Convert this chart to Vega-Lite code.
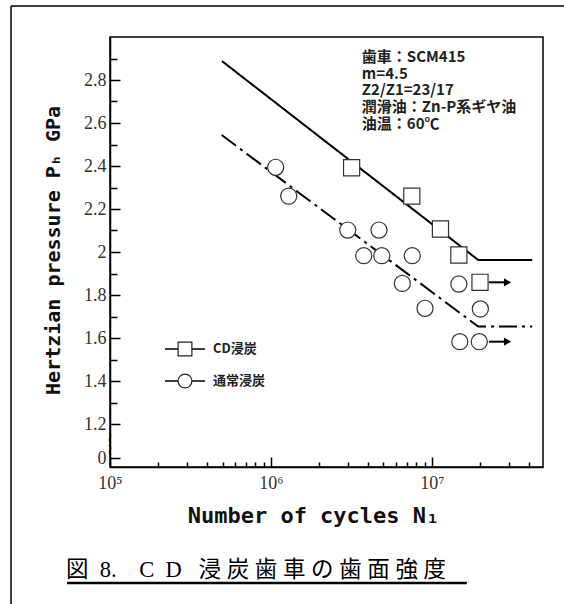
{
  "$schema": "https://vega.github.io/schema/vega-lite/v6.json",
  "autosize": "none",
  "width": 433,
  "height": 430,
  "padding": {"left": 110, "top": 37, "right": 21, "bottom": 137},
  "background": "white",
  "datasets": {
    "points": [
      {"series": "CD浸炭", "x": 3170000, "y": 2.392},
      {"series": "CD浸炭", "x": 7500000, "y": 2.26},
      {"series": "CD浸炭", "x": 11300000, "y": 2.107},
      {"series": "CD浸炭", "x": 14700000, "y": 1.986},
      {"series": "CD浸炭", "x": 19900000, "y": 1.859},
      {"series": "通常浸炭", "x": 1070000, "y": 2.394},
      {"series": "通常浸炭", "x": 1290000, "y": 2.26},
      {"series": "通常浸炭", "x": 3000000, "y": 2.102},
      {"series": "通常浸炭", "x": 4690000, "y": 2.102},
      {"series": "通常浸炭", "x": 3770000, "y": 1.983},
      {"series": "通常浸炭", "x": 4880000, "y": 1.983},
      {"series": "通常浸炭", "x": 7550000, "y": 1.983},
      {"series": "通常浸炭", "x": 6550000, "y": 1.854},
      {"series": "通常浸炭", "x": 14700000, "y": 1.851},
      {"series": "通常浸炭", "x": 9060000, "y": 1.738},
      {"series": "通常浸炭", "x": 20000000, "y": 1.735},
      {"series": "通常浸炭", "x": 14900000, "y": 1.583},
      {"series": "通常浸炭", "x": 19700000, "y": 1.583}
    ],
    "lines": [
      {"series": "CD浸炭", "x": 496000, "y": 2.888},
      {"series": "CD浸炭", "x": 19400000, "y": 1.963},
      {"series": "CD浸炭", "x": 42000000, "y": 1.963},
      {"series": "通常浸炭", "x": 494000, "y": 2.544},
      {"series": "通常浸炭", "x": 19400000, "y": 1.653},
      {"series": "通常浸炭", "x": 42000000, "y": 1.653}
    ],
    "arrows": [
      {"series": "CD浸炭", "x": 22600000, "x2": 29500000, "y": 1.859},
      {"series": "通常浸炭", "x": 22600000, "x2": 29500000, "y": 1.583}
    ],
    "legend": [
      {"series": "CD浸炭", "x": 292400, "xa": 219600, "xb": 389000, "xl": 436200, "y": 1.549},
      {"series": "通常浸炭", "x": 292400, "xa": 219600, "xb": 389000, "xl": 436200, "y": 1.40}
    ],
    "deco": [
      {"part": "frame", "x": 24270, "y": 3.144, "x2": 200000000, "y2": 3.144},
      {"part": "frame", "x": 24270, "y": 3.144, "x2": 24270, "y2": 0.3},
      {"part": "underline", "x": 54075, "y": 0.46, "x2": 16480000, "y2": 0.46}
    ],
    "notes": [
      {"x": 3670000, "y": 2.94, "text": "歯車：SCM415\nm=4.5\nZ2/Z1=23/17\n潤滑油：Zn-P系ギヤ油\n油温：60℃"}
    ],
    "caption": [
      {"x": 53300, "y": 0.521, "text": "図\u20028.\u2003C\u2002D\u2002\u2005浸\u2005炭\u2005歯\u2005車\u2005の\u2005歯\u2005面\u2005強\u2005度"}
    ],
    "breaks": [
      {"x": 100000, "y": 1.135, "text": "≀"},
      {"x": 100000, "y": 1.079, "text": "≀"}
    ]
  },
  "encoding": {
    "x": {
      "field": "x",
      "type": "quantitative",
      "scale": {"type": "log", "domain": [100000, 49000000]},
      "axis": {
        "values": [100000, 200000, 300000, 400000, 500000, 600000, 700000, 800000, 900000, 1000000, 2000000, 3000000, 4000000, 5000000, 6000000, 7000000, 8000000, 9000000, 10000000, 20000000, 30000000, 40000000],
        "labelExpr": "datum.value == 100000 ? '10⁵' : datum.value == 1000000 ? '10⁶' : datum.value == 10000000 ? '10⁷' : ''",
        "tickSize": {"condition": {"test": "datum.value == 100000 || datum.value == 1000000 || datum.value == 10000000", "value": -10}, "value": -5},
        "tickColor": "black",
        "tickWidth": 1.5,
        "domainColor": "black",
        "domainWidth": 1.5,
        "grid": false,
        "labelOverlap": false,
        "labelFlush": false,
        "labelFont": "Liberation Serif",
        "labelFontSize": 18,
        "labelColor": "#333",
        "labelPadding": 17,
        "title": "Number of cycles N₁",
        "titleFont": "DejaVu Sans Mono",
        "titleFontSize": 22,
        "titleFontWeight": "bold",
        "titleColor": "#111",
        "titleX": 203,
        "titleY": 48,
        "titleAlign": "center",
        "titleBaseline": "middle"
      }
    },
    "y": {
      "field": "y",
      "type": "quantitative",
      "scale": {"domain": [1.0, 3.0], "zero": false, "nice": false},
      "axis": {
        "values": [1.04, 1.2, 1.3, 1.4, 1.5, 1.6, 1.7, 1.8, 1.9, 2.0, 2.1, 2.2, 2.3, 2.4, 2.5, 2.6, 2.7, 2.8, 2.9],
        "labelExpr": "datum.value < 1.1 ? '0' : (round(datum.value * 10) % 2 == 0 ? format(datum.value, '.1~f') : '')",
        "tickSize": {"condition": {"test": "round(datum.value * 10) % 2 == 0", "value": -10}, "value": -7},
        "tickColor": "black",
        "tickWidth": 1.5,
        "domainColor": "black",
        "domainWidth": 1.5,
        "grid": false,
        "labelOverlap": false,
        "labelFlush": false,
        "labelFont": "Liberation Serif",
        "labelFontSize": 18,
        "labelColor": "#333",
        "labelPadding": 14,
        "title": "Hertzian pressure Pₕ GPa",
        "titleFont": "DejaVu Sans Mono",
        "titleFontSize": 20,
        "titleFontWeight": "bold",
        "titleColor": "#111",
        "titleX": -57,
        "titleY": 213,
        "titleAngle": -90,
        "titleAlign": "center",
        "titleBaseline": "middle"
      }
    }
  },
  "layer": [
    {
      "data": {"name": "deco"},
      "transform": [{"filter": "datum.part == 'frame'"}],
      "mark": {"type": "rule", "color": "black", "strokeWidth": 1.5},
      "encoding": {"x2": {"field": "x2"}, "y2": {"field": "y2"}}
    },
    {
      "data": {"name": "deco"},
      "transform": [{"filter": "datum.part == 'underline'"}],
      "mark": {"type": "rule", "color": "black", "strokeWidth": 2.5},
      "encoding": {"x2": {"field": "x2"}, "y2": {"field": "y2"}}
    },
    {
      "data": {"name": "lines"},
      "mark": {"type": "line", "color": "black", "strokeWidth": 2},
      "encoding": {
        "detail": {"field": "series"},
        "strokeDash": {
          "field": "series",
          "type": "nominal",
          "scale": {"domain": ["CD浸炭", "通常浸炭"], "range": [[1, 0], [18, 5, 3, 5]]},
          "legend": null
        }
      }
    },
    {
      "data": {"name": "arrows"},
      "mark": {"type": "rule", "color": "black", "strokeWidth": 2},
      "encoding": {"x2": {"field": "x2"}}
    },
    {
      "data": {"name": "arrows"},
      "mark": {"type": "point", "shape": "triangle-right", "filled": true, "color": "black", "size": 70, "opacity": 1},
      "encoding": {"x": {"field": "x2", "type": "quantitative"}}
    },
    {
      "data": {"name": "legend"},
      "mark": {"type": "rule", "color": "black", "strokeWidth": 1.5},
      "encoding": {"x": {"field": "xa", "type": "quantitative"}, "x2": {"field": "xb"}}
    },
    {
      "data": {"name": "points"},
      "mark": {"type": "point", "filled": false, "fill": "white", "fillOpacity": 1, "stroke": "#333", "strokeWidth": 1.2, "size": 260, "opacity": 1},
      "encoding": {
        "shape": {
          "field": "series",
          "type": "nominal",
          "scale": {"domain": ["CD浸炭", "通常浸炭"], "range": ["square", "circle"]},
          "legend": null
        }
      }
    },
    {
      "data": {"name": "legend"},
      "mark": {"type": "point", "filled": false, "fill": "white", "fillOpacity": 1, "stroke": "#222", "strokeWidth": 1.2, "size": 190, "opacity": 1},
      "encoding": {
        "shape": {"field": "series", "type": "nominal", "legend": null}
      }
    },
    {
      "data": {"name": "legend"},
      "mark": {"type": "text", "align": "left", "baseline": "middle", "font": "Noto Sans CJK JP", "fontSize": 13, "fontWeight": "bold", "color": "#222"},
      "encoding": {"x": {"field": "xl", "type": "quantitative"}, "text": {"field": "series"}}
    },
    {
      "data": {"name": "notes"},
      "mark": {"type": "text", "align": "left", "baseline": "top", "lineBreak": "\n", "lineHeight": 16.7, "font": "Noto Sans CJK JP", "fontSize": 15, "fontWeight": "bold", "color": "#222"},
      "encoding": {"text": {"field": "text"}}
    },
    {
      "data": {"name": "caption"},
      "mark": {"type": "text", "align": "left", "baseline": "middle", "font": "'Liberation Serif', 'Noto Sans CJK JP'", "fontSize": 22.5, "color": "black"},
      "encoding": {"text": {"field": "text"}}
    },
    {
      "data": {"name": "breaks"},
      "mark": {"type": "text", "align": "center", "baseline": "middle", "font": "DejaVu Sans", "fontSize": 16, "color": "black"},
      "encoding": {"text": {"field": "text"}}
    }
  ],
  "config": {
    "view": {"stroke": "black", "strokeWidth": 1.5}
  }
}
